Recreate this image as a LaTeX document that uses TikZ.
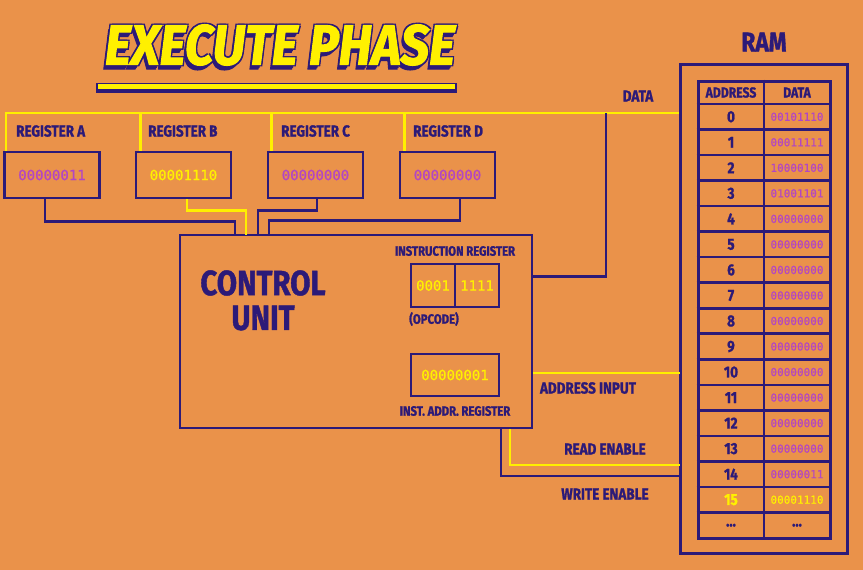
\documentclass[tikz,border=0pt]{standalone}
\usepackage{fontspec}
\setmainfont{Fira Sans}
\newfontfamily\condfont[FakeStretch=0.84,BoldFeatures={FakeBold=1.2}]{Fira Sans}
\newfontfamily\ttlfont[BoldItalicFeatures={FakeBold=2}]{Fira Sans}
\newfontfamily\codefont[FakeBold=0.6]{DejaVu Sans Mono}
\definecolor{bg}{RGB}{234,146,74}
\definecolor{pur}{RGB}{44,26,120}
\definecolor{yel}{RGB}{255,240,0}
\definecolor{mag}{RGB}{178,70,196}
\tikzset{
  pline/.style={draw=pur,line width=2.6pt},
  yline/.style={draw=yel,line width=2.5pt},
  pbox/.style={draw=pur,line width=2.6pt,inner sep=0pt},
  regbox/.style={pbox,minimum width=95pt,minimum height=46pt,text=mag,font=\codefont\fontsize{14}{14}\selectfont},
  lbl/.style={text=pur,inner sep=0pt,font=\condfont\bfseries\fontsize{16}{16}\selectfont},
  smlbl/.style={text=pur,inner sep=0pt,font=\condfont\bfseries\fontsize{13.5}{13.5}\selectfont},
  bigcu/.style={text=pur,inner sep=0pt,font=\condfont\bfseries\fontsize{35}{35}\selectfont},
  ramval/.style={text=mag,inner sep=0pt,font=\codefont\fontsize{11}{11}\selectfont},
  ramnum/.style={text=pur,inner sep=0pt,font=\condfont\bfseries\fontsize{16}{16}\selectfont},
  ramhead/.style={text=pur,inner sep=0pt,font=\condfont\bfseries\fontsize{14.5}{14.5}\selectfont},
  ttl/.style={inner sep=0pt,font=\ttlfont\bfseries\itshape},
}
\newcommand{\ttltext}{\resizebox{350pt}{40pt}{EXECUTE PHASE}}
\begin{document}
\begin{tikzpicture}[x=1pt,y=-1pt]
\fill[bg] (0,0) rectangle (863,570);
\useasboundingbox (0,0) rectangle (863,570);

% ---- title
\node[ttl,text=pur] (tsh1) at (277.5,49.5) {\ttltext};
\node[ttl,text=pur] (tsh2) at (278.5,48) {\ttltext};
\node[ttl,text=pur] (to1) at (281.3,43.7) {\ttltext};
\node[ttl,text=pur] (to2) at (278.7,43.7) {\ttltext};
\node[ttl,text=pur] (to3) at (281.3,46.3) {\ttltext};
\node[ttl,text=pur] (to4) at (278.7,46.3) {\ttltext};
\node[ttl,text=yel] (title) at (280,45) {\ttltext};
\fill[pur] (96,82.5) rectangle (457,93);
\fill[yel] (98,84.2) rectangle (455,89.2);

% ---- registers
\node[regbox] (ra) at (52,175) {00000011};
\node[regbox,text=yel] (rb) at (183.5,175) {00001110};
\node[regbox] (rc) at (315.5,175) {00000000};
\node[regbox] (rd) at (447.5,175) {00000000};
\node[lbl,anchor=west] (la) at (16,131) {REGISTER A};
\node[lbl,anchor=west] (lb) at (148,131) {REGISTER B};
\node[lbl,anchor=west] (lc) at (281,131) {REGISTER C};
\node[lbl,anchor=west] (ld) at (413,131) {REGISTER D};

% ---- control unit
\node[pbox,minimum width=352pt,minimum height=193pt] (cu) at (356,331.5) {};
\node[bigcu] (cu1) at (263,283) {CONTROL};
\node[bigcu] (cu2) at (263,318) {UNIT};
\node[smlbl] (irl) at (455,251) {INSTRUCTION REGISTER};
\node[pbox,minimum width=44pt,minimum height=43pt,text=yel,font=\codefont\fontsize{14}{14}\selectfont] (ir1) at (433,285.5) {0001};
\node[pbox,minimum width=44pt,minimum height=43pt,text=yel,font=\codefont\fontsize{14}{14}\selectfont] (ir2) at (477,285.5) {1111};
\node[smlbl] (opc) at (434,319) {(OPCODE)};
\node[pbox,minimum width=88pt,minimum height=42pt,text=yel,font=\codefont\fontsize{14}{14}\selectfont] (iar) at (455,375) {00000001};
\node[smlbl] (iarl) at (455,411) {INST. ADDR. REGISTER};

% ---- RAM
\node[text=pur,inner sep=0pt,font=\condfont\bfseries\fontsize{27}{27}\selectfont] (raml) at (764,42) {RAM};
\node[draw=pur,line width=3pt,minimum width=167pt,minimum height=489pt,inner sep=0pt] (ramouter) at (763.5,308.5) {};
\node[draw=pur,line width=3pt,minimum width=132pt,minimum height=457pt,inner sep=0pt] (ramtab) at (764,309.5) {};
\draw[pline] (ramtab.north) -- (ramtab.south);
\draw[pline] (ramtab.west |- 0,104) -- (ramtab.east |- 0,104);
\foreach \k in {1,...,16}{
  \draw[pline] (ramtab.west |- 0,{104+\k*25.53}) -- (ramtab.east |- 0,{104+\k*25.53});
}
\node[ramhead] (hadr) at (731,92.5) {ADDRESS};
\node[ramhead] (hdat) at (797,92.5) {DATA};
\foreach \k/\v in {0/00101110,1/00011111,2/10000100,3/01001101,4/00000000,5/00000000,6/00000000,7/00000000,8/00000000,9/00000000,10/00000000,11/00000000,12/00000000,13/00000000,14/00000011}{
  \node[ramnum] (a\k) at (731,{104+(\k+0.5)*25.53}) {\k};
  \node[ramval] (d\k) at (797,{104+(\k+0.5)*25.53}) {\v};
}
\node[ramnum,text=yel] (a15) at (731,{104+15.5*25.53}) {15};
\node[ramval,text=yel] (d15) at (797,{104+15.5*25.53}) {00001110};
\node[ramnum] (a16) at (731,{104+16.5*25.53}) {...};
\node[ramnum] (d16) at (797,{104+16.5*25.53}) {...};

% ---- coordinates
\coordinate (busy) at (0,113);
\coordinate (dtap) at (606,113);
\coordinate (addrIn) at (680,373);
\coordinate (readIn) at (680,465);
\coordinate (writeIn) at (680,476);
\coordinate (cuA) at (235,235);
\coordinate (cuB) at (246,235);
\coordinate (cuC) at (258,235);
\coordinate (cuD) at (269,235);

% ---- data bus (yellow)
\draw[yline] ([xshift=3pt]ra.north west) -- ([xshift=3pt]ra.north west |- busy) -- (ramouter.west |- busy);
\draw[yline] ([xshift=6pt]rb.north west) -- ([xshift=6pt]rb.north west |- busy);
\draw[yline] ([xshift=5pt]rc.north west) -- ([xshift=5pt]rc.north west |- busy);
\draw[yline] ([xshift=6pt]rd.north west) -- ([xshift=6pt]rd.north west |- busy);
\node[lbl] (ldata) at (638,96) {DATA};

% ---- registers to control unit
\draw[pline] ([xshift=-7pt]ra.south) -- ++(0,22) -| (cuA);
\draw[yline] ([xshift=3.5pt]rb.south) -- ++(0,11) -| (cuB);
\draw[pline] ([xshift=1.5pt]rc.south) -- ++(0,11) -| (cuC);
\draw[pline] ([xshift=12.5pt]rd.south) -- ++(0,21) -| (cuD);

% ---- control unit to data bus
\draw[pline] ([yshift=-43pt]cu.north east) -| (dtap);

% ---- address / read / write
\draw[yline] (addrIn -| cu.east) -- (addrIn);
\node[lbl] (laddr) at (588,388) {ADDRESS INPUT};
\draw[yline] ([xshift=154pt]cu.south) |- (readIn);
\node[lbl] (lread) at (605,449) {READ ENABLE};
\draw[pline] ([xshift=145pt]cu.south) |- (writeIn);
\node[lbl] (lwrite) at (605,494) {WRITE ENABLE};
\end{tikzpicture}
\end{document}
